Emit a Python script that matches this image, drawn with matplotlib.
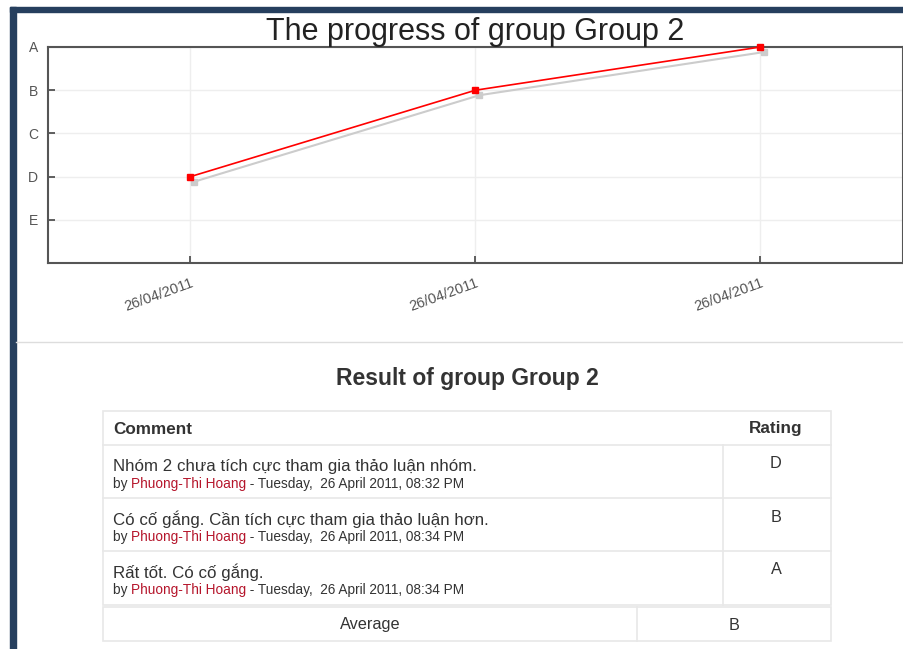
import matplotlib.pyplot as plt
from matplotlib import transforms
from matplotlib.patches import Rectangle

# data
dates = ['26/04/2011', '26/04/2011', '26/04/2011']
grade_names = ['E', 'D', 'C', 'B', 'A']
grade_values = [1, 2, 3, 4, 5]
ratings = ['D', 'B', 'A']
comments = ['Nhóm 2 chưa tích cực tham gia thảo luận nhóm.',
            'Có cố gắng. Cần tích cực tham gia thảo luận hơn.',
            'Rất tốt. Có cố gắng.']
authors = ['Phuong-Thi Hoang', 'Phuong-Thi Hoang', 'Phuong-Thi Hoang']
times = ['Tuesday,  26 April 2011, 08:32 PM',
         'Tuesday,  26 April 2011, 08:34 PM',
         'Tuesday,  26 April 2011, 08:34 PM']
average = 'B'
group = 'Group 2'

plt.rcParams['font.family'] = ['Liberation Sans', 'DejaVu Sans']
W, H = 904, 649
fig = plt.figure(figsize=(W / 100, H / 100), dpi=100)

# page overlay in pixel coordinates
bg = fig.add_axes([0, 0, 1, 1])
bg.set_xlim(0, W)
bg.set_ylim(H, 0)
bg.axis('off')
bg.add_patch(Rectangle((10, 7), W - 10, 5, color='#263f5e'))
bg.add_patch(Rectangle((10, 7), 6, H - 7, color='#263f5e'))
bg.plot([16, W], [342, 342], color='#dddddd', lw=1)

# chart
ax = fig.add_axes([48 / W, (H - 263) / H, (903 - 48) / W, (263 - 47) / H])
x = list(range(len(dates)))
y = [grade_values[grade_names.index(r)] for r in ratings]
shadow = transforms.offset_copy(ax.transData, fig=fig, x=4, y=-5, units='dots')
ax.plot(x, y, color='#cccccc', lw=1.5, marker='s', ms=5, transform=shadow,
        zorder=2, clip_on=False)
ax.plot(x, y, color='#ff0000', lw=1.2, marker='s', ms=5, zorder=3, clip_on=False)
ax.set_xlim(-0.5, len(dates) - 0.5)
ax.set_ylim(0, 5)
ax.set_yticks(grade_values)
ax.set_yticklabels(grade_names, fontsize=10, color='#555555')
ax.set_xticks(x)
ax.set_xticklabels(dates, fontsize=10.5, color='#555555', rotation=20,
                   ha='right', va='top', rotation_mode='anchor')
ax.tick_params(axis='both', direction='in', length=5, width=1.2, color='#444444')
ax.tick_params(axis='y', pad=7)
ax.tick_params(axis='x', pad=9)
ax.grid(True, color='#eeeeee', lw=1)
ax.set_axisbelow(True)
for s in ax.spines.values():
    s.set_color('#555555')
    s.set_linewidth(1.5)
fig.text(475 / W, 1 - 32 / H, 'The progress of group ' + group, fontsize=22,
         ha='center', va='center', color='#222222')

# table
bg.text(467, 378, 'Result of group ' + group, fontsize=16.5, fontweight='bold',
        ha='center', va='center', color='#333333')
border = '#e8e8e8'
left, right, col = 103, 831, 723
rows = [411, 445, 498, 551, 605]
bg.add_patch(Rectangle((left, 411), right - left, 605 - 411, fill=False, ec=border, lw=1.2))
for yy in rows[1:-1]:
    bg.plot([left, right], [yy, yy], color=border, lw=1.2)
bg.plot([col, col], [445, 605], color=border, lw=1.2)
bg.add_patch(Rectangle((left, 607), right - left, 641 - 607, fill=False, ec=border, lw=1.2))
bg.plot([637, 637], [607, 641], color=border, lw=1.2)

bg.text(113, 429, 'Comment', fontsize=12.3, fontweight='bold', va='center', color='#333333')
bg.text(776, 429, 'Rating', fontsize=12.3, fontweight='bold', va='center', ha='center', color='#333333')
for i, (c, a, t, r) in enumerate(zip(comments, authors, times, ratings)):
    top = rows[i + 1]
    bg.text(113, top + 21, c, fontsize=12.2, va='center', color='#333333')
    t1 = bg.text(113, top + 39, 'by ', fontsize=9.8, va='center', color='#333333')
    t2 = bg.annotate(a, xycoords=t1, xy=(1, 0), va='bottom', fontsize=9.8, color='#b5152b')
    bg.annotate(' - ' + t, xycoords=t2, xy=(1, 0), va='bottom', fontsize=9.8, color='#333333')
    bg.text(776, top + 19, r, fontsize=11.7, ha='center', va='center', color='#333333')
bg.text(370, 625, 'Average', fontsize=11.7, ha='center', va='center', color='#333333')
bg.text(734, 625, average, fontsize=11.7, ha='center', va='center', color='#333333')

fig.savefig('out.png', dpi=100)
